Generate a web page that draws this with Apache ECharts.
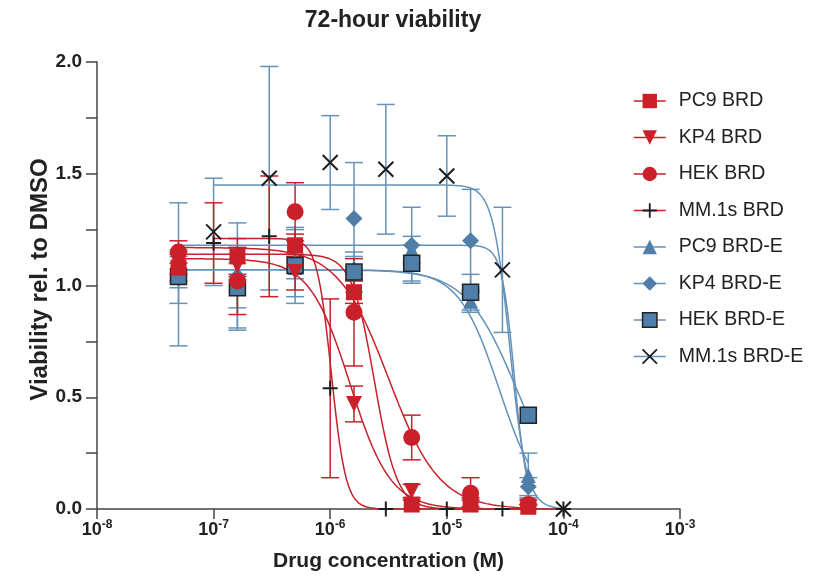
<!DOCTYPE html>
<html>
<head>
<meta charset="utf-8">
<script src="https://cdn.jsdelivr.net/npm/echarts@6/dist/echarts.min.js"></script>
<style>
	html, body { margin: 0; padding: 0; background: #fff; }
	#myChart { width: 817px; height: 577px; }
</style>
</head>
<body>
<div id="myChart"></div>
<script>
	// doses (M)
	var doseA = [5e-8, 1.6e-7, 5e-7, 1.6e-6, 5e-6, 1.6e-5, 5e-5];
	var doseB = [1e-7, 3e-7, 1e-6, 3e-6, 1e-5, 3e-5, 1e-4];

	// viability rel. to DMSO, mean and SD
	var pc9Brd = [1.08, 1.13, 1.18, 0.97, 0.02, 0.02, 0.01];
	var pc9BrdErr = [0.06, 0.08, 0.05, 0.05, 0.02, 0.02, 0.01];
	var kp4Brd = [1.10, 1.09, 1.06, 0.47, 0.08, 0.03, 0.01];
	var kp4BrdErr = [0.05, 0.05, 0.08, 0.08, 0.03, 0.02, 0.01];
	var hekBrd = [1.15, 1.02, 1.33, 0.88, 0.32, 0.07, 0.02];
	var hekBrdErr = [0.05, 0.15, 0.13, 0.24, 0.10, 0.07, 0.02];
	var mmBrd = [1.19, 1.22, 0.54, 0, 0, 0, 0];
	var mmBrdErr = [0.18, 0.27, 0.40, 0, 0, 0, 0];

	var pc9BrdE = [1.06, 1.00, 1.08, 1.08, 1.16, 0.93, 0.15];
	var pc9BrdEErr = [0.07, 0.10, 0.05, 0.05, 0.06, 0.05, 0.10];
	var kp4BrdE = [1.05, 1.04, 1.10, 1.30, 1.18, 1.20, 0.10];
	var kp4BrdEErr = [0.32, 0.24, 0.15, 0.25, 0.17, 0.23, 0.04];
	var hekBrdE = [1.04, 0.99, 1.09, 1.06, 1.10, 0.97, 0.42];
	var hekBrdEErr = [0.12, 0.18, 0.17, 0.09, 0.08, 0.08, 0.03];
	var mmBrdE = [1.24, 1.48, 1.55, 1.52, 1.49, 1.07, 0];
	var mmBrdEErr = [0.24, 0.50, 0.21, 0.29, 0.18, 0.28, 0];

	// fitted dose-response curves (top, logIC50, hill), same order as legend
	var fitTop = [1.14, 1.12, 1.17, 1.21, 1.07, 1.18, 1.07, 1.45];
	var fitLogIC50 = [-5.62, -5.83, -5.5, -5.99, -4.55, -4.42, -4.4, -4.46];
	var fitHill = [4.5, 2.5, 2, 7, 2.5, 8, 2, 6];

	var legendNames = ['PC9 BRD', 'KP4 BRD', 'HEK BRD', 'MM.1s BRD',
		'PC9 BRD-E', 'KP4 BRD-E', 'HEK BRD-E', 'MM.1s BRD-E'];

	var RED = '#c9202a';
	var BLUE = '#4f7ea8';
	var BLUE_LINE = '#6592ba';
	var BLACK = '#1e1e1e';
	var FONT = 'Liberation Sans, Arial, sans-serif';

	var plusPath = 'path://M0,-5 L0,5 M-5,0 L5,0';
	var crossPath = 'path://M-5,-5 L5,5 M-5,5 L5,-5';

	var sets = [
		{ dose: doseA, val: pc9Brd, err: pc9BrdErr, line: RED, mark: RED, symbol: 'rect', size: 16 },
		{ dose: doseA, val: kp4Brd, err: kp4BrdErr, line: RED, mark: RED, symbol: 'triangle', size: 16, rotate: 180 },
		{ dose: doseA, val: hekBrd, err: hekBrdErr, line: RED, mark: RED, symbol: 'circle', size: 17 },
		{ dose: doseB, val: mmBrd, err: mmBrdErr, line: RED, mark: BLACK, symbol: plusPath, size: 15, stroke: true },
		{ dose: doseA, val: pc9BrdE, err: pc9BrdEErr, line: BLUE_LINE, mark: BLUE, symbol: 'triangle', size: 15 },
		{ dose: doseA, val: kp4BrdE, err: kp4BrdEErr, line: BLUE_LINE, mark: BLUE, symbol: 'diamond', size: 17 },
		{ dose: doseA, val: hekBrdE, err: hekBrdEErr, line: BLUE_LINE, mark: BLUE, symbol: 'rect', size: 16, border: true },
		{ dose: doseB, val: mmBrdE, err: mmBrdEErr, line: BLUE_LINE, mark: BLACK, symbol: crossPath, size: 15, stroke: true }
	];

	function fitCurve(k, lo, hi) {
		var pts = [];
		var a = Math.log10(lo), b = Math.log10(hi);
		for (var i = 0; i <= 200; i++) {
			var lx = a + (b - a) * i / 200;
			var y = fitTop[k] / (1 + Math.pow(10, fitHill[k] * (lx - fitLogIC50[k])));
			pts.push([Math.pow(10, lx), y]);
		}
		return pts;
	}

	function errRender(color) {
		return function (params, api) {
			var x = api.value(0), y = api.value(1), e = api.value(2);
			if (!e) return null;
			var hi = api.coord([x, y + e]);
			var lo = api.coord([x, Math.max(y - e, 0)]);
			var w = 9;
			var st = { stroke: color, lineWidth: 1.5 };
			return {
				type: 'group',
				children: [
					{ type: 'line', shape: { x1: hi[0], y1: hi[1], x2: lo[0], y2: lo[1] }, style: st },
					{ type: 'line', shape: { x1: hi[0] - w, y1: hi[1], x2: hi[0] + w, y2: hi[1] }, style: st },
					{ type: 'line', shape: { x1: lo[0] - w, y1: lo[1], x2: lo[0] + w, y2: lo[1] }, style: st }
				]
			};
		};
	}

	var series = [];
	// curves first, so the legend takes its icon from them
	sets.forEach(function (s, k) {
		series.push({
			name: legendNames[k],
			type: 'line',
			data: fitCurve(k, s.dose[0], s.dose[s.dose.length - 1]),
			showSymbol: false,
			symbol: s.symbol,
			symbolRotate: s.rotate || 0,
			lineStyle: { color: s.line, width: 1.5 },
			itemStyle: { color: s.mark },
			z: s.line === RED ? 4 : 3,
			silent: true,
			animation: false
		});
	});
	sets.forEach(function (s, k) {
		series.push({
			name: legendNames[k],
			type: 'custom',
			renderItem: errRender(s.line),
			data: s.dose.map(function (d, i) { return [d, s.val[i], s.err[i]]; }),
			z: s.line === RED ? 2 : 1,
			silent: true,
			animation: false
		});
	});
	sets.forEach(function (s, k) {
		var st = { color: s.mark, opacity: 1 };
		if (s.border) { st.borderColor = '#222'; st.borderWidth = 1.5; }
		if (s.stroke) { st.color = 'none'; st.borderColor = BLACK; st.borderWidth = 2; }
		series.push({
			name: legendNames[k],
			type: 'scatter',
			data: s.dose.map(function (d, i) { return [d, s.val[i]]; }),
			symbol: s.symbol,
			symbolSize: s.size,
			symbolRotate: s.rotate || 0,
			itemStyle: st,
			z: s.stroke ? 7 : (s.line === RED ? 6 : 5),
			silent: true,
			animation: false
		});
	});

	var legendData = legendNames.map(function (n, k) {
		var s = sets[k];
		var it = { name: n, itemStyle: { color: s.mark, borderWidth: 0 } };
		if (s.border) it.itemStyle = { color: s.mark, borderColor: '#222', borderWidth: 1.5 };
		if (s.stroke) it.itemStyle = { color: 'none', borderColor: BLACK, borderWidth: 1.8 };
		it.lineStyle = { color: s.line, width: 1.5 };
		return it;
	});

	var myChart = echarts.init(document.getElementById('myChart'));
	myChart.setOption({
		backgroundColor: '#fff',
		animation: false,
		title: {
			text: '72-hour viability',
			left: 388,
			textAlign: 'center',
			top: 4,
			textStyle: { fontFamily: FONT, fontSize: 23, fontWeight: 'bold', color: '#222' }
		},
		legend: {
			orient: 'vertical',
			left: 633,
			top: 91,
			padding: 0,
			itemWidth: 32,
			itemHeight: 18,
			itemGap: 16.5,
			selectedMode: false,
			textStyle: { fontFamily: FONT, fontSize: 19.5, lineHeight: 20, color: '#222', padding: [0, 0, 0, 8] },
			data: legendData
		},
		grid: { left: 97, right: 137, top: 62, bottom: 67 },
		xAxis: {
			type: 'log',
			logBase: 10,
			min: 1e-8,
			max: 1e-3,
			name: 'Drug concentration (M)',
			nameLocation: 'middle',
			nameGap: 42,
			nameMoveOverlap: false,
			nameTextStyle: { fontFamily: FONT, fontSize: 21, fontWeight: 'bold', color: '#222' },
			axisLine: { lineStyle: { color: '#444', width: 1.5 } },
			axisTick: { show: true, lineStyle: { color: '#444', width: 1.5 }, length: 10 },
			minorTick: { show: false },
			splitLine: { show: false },
			axisLabel: {
				margin: 10,
				formatter: function (v) {
					var e = Math.round(Math.log10(v));
					return '{b|10}{s|' + e + '}';
				},
				rich: {
					b: { fontFamily: FONT, fontSize: 18, fontWeight: 'bold', color: '#222' },
					s: { fontFamily: FONT, fontSize: 12, fontWeight: 'bold', color: '#222', padding: [0, 0, 10, 0] }
				}
			}
		},
		yAxis: {
			type: 'value',
			min: 0,
			max: 2,
			interval: 0.25,
			name: 'Viability rel. to DMSO',
			nameLocation: 'middle',
			nameGap: 45,
			nameMoveOverlap: false,
			nameTextStyle: { fontFamily: FONT, fontSize: 24, fontWeight: 'bold', color: '#222', padding: [0, 0, 0, 12] },
			axisLine: { show: true, lineStyle: { color: '#444', width: 1.5 } },
			axisTick: { show: true, lineStyle: { color: '#444', width: 1.5 }, length: 11 },
			splitLine: { show: false },
			axisLabel: {
				fontFamily: FONT,
				fontSize: 19,
				fontWeight: 'bold',
				color: '#222',
				margin: 15,
				formatter: function (v) {
					return Math.abs(v * 2 - Math.round(v * 2)) < 1e-6 ? v.toFixed(1) : '';
				}
			}
		},
		series: series
	});
</script>
</body>
</html>
